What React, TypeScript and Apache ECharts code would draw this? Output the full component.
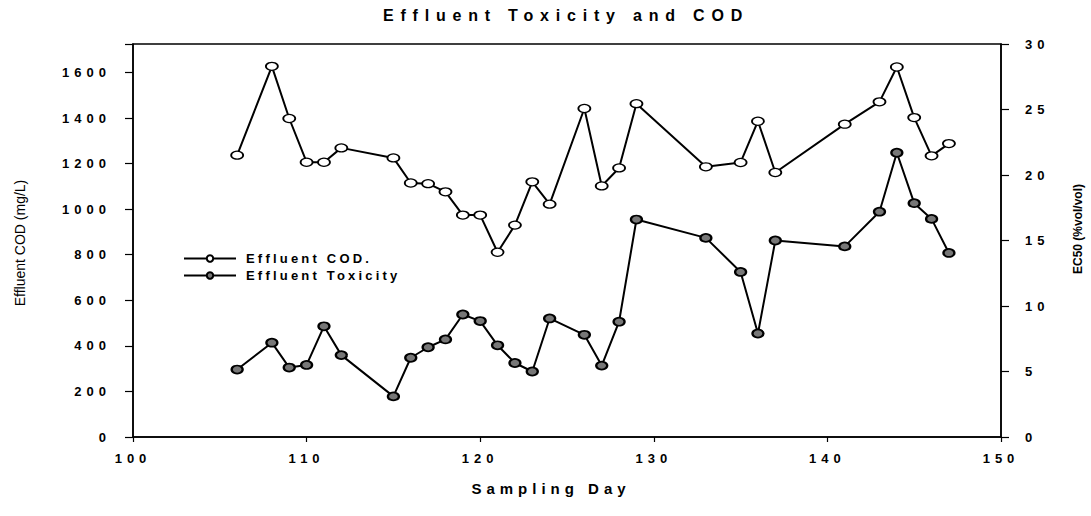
import React, { useEffect, useRef } from "react";
import * as echarts from "echarts";

const days = [106, 108, 109, 110, 111, 112, 115, 116, 117, 118, 119, 120, 121, 122, 123, 124, 126, 127, 128, 129, 133, 135, 136, 137, 141, 143, 144, 145, 146, 147];
const codValues = [1237, 1627, 1398, 1206, 1206, 1269, 1225, 1115, 1112, 1076, 974, 974, 811, 930, 1120, 1022, 1442, 1102, 1181, 1463, 1186, 1205, 1386, 1161, 1373, 1471, 1624, 1402, 1234, 1288];
const toxValues = [5.15, 7.2, 5.3, 5.5, 8.45, 6.25, 3.1, 6.05, 6.85, 7.45, 9.35, 8.85, 7.0, 5.65, 5.0, 9.05, 7.8, 5.45, 8.8, 16.6, 15.2, 12.6, 7.9, 15.0, 14.55, 17.2, 21.7, 17.85, 16.65, 14.05];

const titleText = "Effluent Toxicity and COD";
const xName = "Sampling Day";
const leftName = "Effluent COD (mg/L)";
const rightName = "EC50 (%vol/vol)";
const codName = "Effluent COD.";
const toxName = "Effluent Toxicity";

const FONT = "'Liberation Sans', Arial, sans-serif";

export default function App() {
  const ref = useRef<HTMLDivElement>(null);
  useEffect(() => {
    if (!ref.current) return;
    const chart = echarts.init(ref.current, undefined, { renderer: "svg" });
    const codData = days.map((d, i) => [d, codValues[i]]);
    const toxData = days.map((d, i) => [d, toxValues[i]]);
    chart.setOption({
      animation: false,
      backgroundColor: "#ffffff",
      title: {
        text: titleText,
        left: 561,
        top: 2,
        textAlign: "center",
        textStyle: { fontFamily: FONT, fontWeight: "bold", fontSize: 16, color: "#000" },
      },
      legend: {
        orient: "vertical",
        left: 178,
        top: 247,
        itemWidth: 52,
        itemHeight: 8,
        itemGap: 4,
        data: [codName, toxName],
        textStyle: { fontFamily: FONT, fontWeight: "bold", fontSize: 13, color: "#000", padding: [0, 0, 0, 5] },
      },
      grid: {
        left: 133,
        right: 90,
        top: 44,
        bottom: 79,
        show: true,
        borderColor: "#000",
        borderWidth: 1.5,
      },
      xAxis: {
        type: "value",
        min: 100,
        max: 150,
        interval: 10,
        axisLine: { show: true, lineStyle: { color: "#000", width: 1.5 } },
        axisTick: { show: true, length: 5, lineStyle: { color: "#000", width: 1.2 } },
        axisLabel: { fontFamily: FONT, fontWeight: "bold", fontSize: 13, color: "#000", margin: 15 },
        splitLine: { show: false },
      },
      yAxis: [
        {
          type: "value",
          min: 0,
          max: 1725,
          interval: 200,
          axisLine: { show: true, lineStyle: { color: "#000", width: 1.5 } },
          axisTick: { show: true, length: 8, lineStyle: { color: "#000", width: 1.2 } },
          axisLabel: {
            fontFamily: FONT,
            fontWeight: "bold",
            fontSize: 13,
            color: "#000",
            margin: 22,
            formatter: (v: number) => (v % 200 === 0 ? String(v) : ""),
          },
          splitLine: { show: false },
        },
        {
          type: "value",
          min: 0,
          max: 30,
          interval: 5,
          position: "right",
          axisLine: { show: true, lineStyle: { color: "#000", width: 1.5 } },
          axisTick: { show: true, length: 8, lineStyle: { color: "#000", width: 1.2 } },
          axisLabel: { fontFamily: FONT, fontWeight: "bold", fontSize: 13, color: "#000", margin: 24 },
          splitLine: { show: false },
        },
      ],
      graphic: [
        {
          type: "text",
          x: 20,
          y: 243,
          rotation: Math.PI / 2,
          style: { text: leftName, fontFamily: FONT, fontSize: 14, fill: "#000", align: "center", verticalAlign: "middle" },
        },
        {
          type: "text",
          x: 1078,
          y: 229,
          rotation: Math.PI / 2,
          style: { text: rightName, fontFamily: FONT, fontSize: 12, fontWeight: "bold", fill: "#000", align: "center", verticalAlign: "middle" },
        },
        {
          type: "text",
          x: 551,
          y: 488,
          style: { text: xName, fontFamily: FONT, fontSize: 15, fontWeight: "bold", fill: "#000", align: "center", verticalAlign: "middle" },
        },
      ],
      series: [
        {
          name: codName,
          type: "line",
          yAxisIndex: 0,
          data: codData,
          symbol: "circle",
          symbolSize: [12, 8],
          lineStyle: { color: "#000", width: 2 },
          itemStyle: { color: "#fff", borderColor: "#000", borderWidth: 1.5 },
        },
        {
          name: toxName,
          type: "line",
          yAxisIndex: 1,
          data: toxData,
          symbol: "circle",
          symbolSize: [11, 8],
          lineStyle: { color: "#000", width: 2 },
          itemStyle: { color: "#777", borderColor: "#000", borderWidth: 2 },
        },
      ],
    });

    const applySpacing = () => {
      if (!ref.current) return;
      const texts = ref.current.querySelectorAll("text");
      texts.forEach((t) => {
        const s = (t.textContent || "").trim();
        let sp = 0;
        if (s === titleText) sp = 6.8;
        else if (s === xName) sp = 5;
        else if (s === codName || s === toxName) sp = 3.2;
        else if (/^\d+$/.test(s)) sp = 5;
        if (sp) t.setAttribute("letter-spacing", String(sp));
      });
    };
    applySpacing();
    chart.on("finished", applySpacing);
    const timer = setTimeout(applySpacing, 50);
    return () => {
      clearTimeout(timer);
      chart.dispose();
    };
  }, []);
  return <div ref={ref} style={{ position: "fixed", left: 0, top: 0, width: 1091, height: 516 }} />;
}
